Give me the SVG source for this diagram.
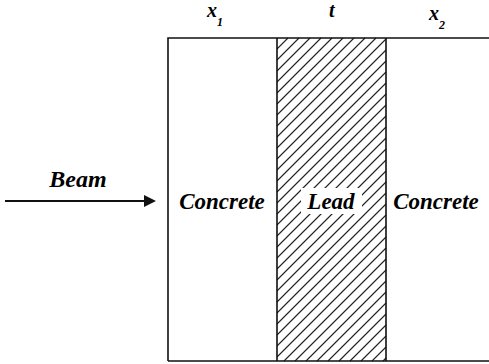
<svg xmlns="http://www.w3.org/2000/svg" width="489" height="364" viewBox="0 0 489 364">
<rect width="489" height="364" fill="#fff"/>
<g id="lead">
<path stroke="#222" stroke-width="1.1" fill="none" d="M277,49L288,38M277,60L299,38M277,71L310,38M277,82L321,38M277,93L332,38M277,104L343,38M277,115L354,38M277,126L365,38M277,137L376,38M277,148L386,39M277,159L386,50M277,170L386,61M277,181L386,72M277,192L386,83M277,203L386,94M277,214L386,105M277,225L386,116M277,236L386,127M277,247L386,138M277,258L386,149M277,269L386,160M277,280L386,171M277,291L386,182M277,302L386,193M277,313L386,204M277,324L386,215M277,335L386,226M277,346L386,237M277,357L386,248M284,361L386,259M295,361L386,270M306,361L386,281M317,361L386,292M328,361L386,303M339,361L386,314M350,361L386,325M361,361L386,336M372,361L386,347M383,361L386,358"/>
<rect x="301" y="188" width="61" height="26" fill="#fff"/>
<text x="331" y="209" font-size="23" font-family="Liberation Serif" font-weight="bold" font-style="italic" text-anchor="middle">Lead</text>
</g>
<g id="walls" stroke="#111" stroke-width="1.6" fill="none">
<path d="M168,361 V38 H489 M168,361 H489 M277,38 V361 M386,38 V361"/>
</g>
<g id="concrete1">
<text x="222" y="209" font-size="23" font-family="Liberation Serif" font-weight="bold" font-style="italic" text-anchor="middle">Concrete</text>
</g>
<g id="concrete2">
<text x="436" y="209" font-size="23" font-family="Liberation Serif" font-weight="bold" font-style="italic" text-anchor="middle">Concrete</text>
</g>
<g id="labels">
<text x="207" y="17" font-size="20" font-family="Liberation Serif" font-weight="bold" font-style="italic">x<tspan font-size="12" dy="9">1</tspan></text>
<text x="329" y="17" font-size="20" font-family="Liberation Serif" font-weight="bold" font-style="italic">t</text>
<text x="429" y="20" font-size="20" font-family="Liberation Serif" font-weight="bold" font-style="italic">x<tspan font-size="12" dy="9">2</tspan></text>
<text x="78" y="187" font-size="24" font-family="Liberation Serif" font-weight="bold" font-style="italic" text-anchor="middle">Beam</text>
</g>
<g id="connectors">
<line x1="5" y1="201" x2="146" y2="201" stroke="#111" stroke-width="2.2"/>
<polygon points="144,195 156,201 144,207" fill="#111"/>
</g>
</svg>
